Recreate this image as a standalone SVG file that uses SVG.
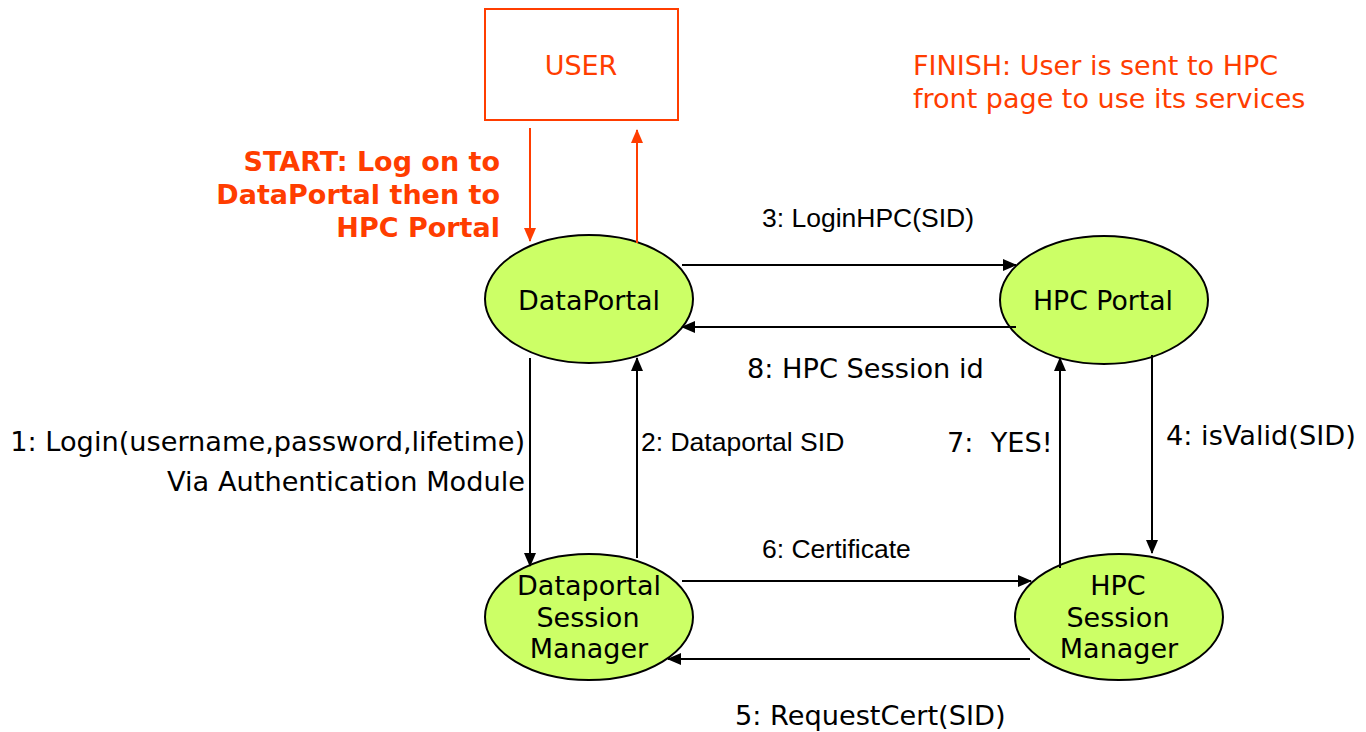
<svg xmlns="http://www.w3.org/2000/svg" width="1366" height="732" viewBox="0 0 1366 732">
<defs>
<marker id="ab" markerWidth="14" markerHeight="12" refX="13" refY="6" orient="auto" markerUnits="userSpaceOnUse"><path d="M0,0 L14,6 L0,12 Z" fill="#000"/></marker>
<marker id="ao" markerWidth="14" markerHeight="12" refX="13" refY="6" orient="auto" markerUnits="userSpaceOnUse"><path d="M0,0 L14,6 L0,12 Z" fill="#FF3D00"/></marker>
</defs>
<style>
.node{fill:#CCFF66;stroke:#000;stroke-width:2}
.nt{font-family:"DejaVu Sans",Verdana,sans-serif;font-size:27px;fill:#000;text-anchor:middle}
.lv{font-family:"DejaVu Sans",Verdana,sans-serif;font-size:27.2px;fill:#000}
.la{font-family:"Liberation Sans",Arial,sans-serif;font-size:26.5px;fill:#000}
.c{stroke:#000;stroke-width:2;fill:none;marker-end:url(#ab)}
.co{stroke:#FF3D00;stroke-width:2;fill:none;marker-end:url(#ao)}
.or{font-family:"DejaVu Sans",Verdana,sans-serif;font-size:27px;fill:#FF3D00}
</style>
<rect width="1366" height="732" fill="#fff"/>
<g id="user">
<rect x="485" y="9" width="193" height="111" fill="#fff" stroke="#FF3D00" stroke-width="2"/>
<text class="or" x="581" y="75" text-anchor="middle">USER</text>
</g>
<g id="start-note">
<text class="or" font-weight="bold" text-anchor="end" x="500" y="171">START: Log on to</text>
<text class="or" font-weight="bold" text-anchor="end" x="500" y="204" font-size="26.3">DataPortal then to</text>
<text class="or" font-weight="bold" text-anchor="end" x="500" y="237">HPC Portal</text>
</g>
<g id="finish-note">
<text class="or" x="913" y="75" font-size="28">FINISH: User is sent to HPC</text>
<text class="or" x="913" y="108" font-size="28">front page to use its services</text>
</g>
<g id="dataportal">
<ellipse class="node" cx="589" cy="299" rx="104" ry="64"/>
<text class="nt" x="589" y="310">DataPortal</text>
</g>
<g id="hpcportal">
<ellipse class="node" cx="1104" cy="300" rx="104" ry="64"/>
<text class="nt" x="1103" y="310" textLength="140" lengthAdjust="spacingAndGlyphs">HPC Portal</text>
</g>
<g id="dpsm">
<ellipse class="node" cx="589" cy="617" rx="104" ry="63"/>
<text class="nt" x="589" y="595">Dataportal</text>
<text class="nt" x="588" y="627">Session</text>
<text class="nt" x="589" y="658">Manager</text>
</g>
<g id="hpcsm">
<ellipse class="node" cx="1119" cy="617" rx="104" ry="63"/>
<text class="nt" x="1118" y="595">HPC</text>
<text class="nt" x="1118" y="627">Session</text>
<text class="nt" x="1119" y="658">Manager</text>
</g>
<g id="connectors">
<line class="co" x1="530" y1="128" x2="530" y2="241"/>
<line class="co" x1="637" y1="243" x2="637" y2="130"/>
<line class="c" x1="682" y1="265" x2="1016" y2="265"/>
<line class="c" x1="1016" y1="327" x2="682" y2="327"/>
<line class="c" x1="530" y1="358" x2="530" y2="566"/>
<line class="c" x1="637" y1="558" x2="637" y2="358"/>
<line class="c" x1="1060" y1="568" x2="1060" y2="358"/>
<line class="c" x1="1152" y1="355" x2="1152" y2="553"/>
<line class="c" x1="682" y1="581" x2="1031" y2="581"/>
<line class="c" x1="1030" y1="659" x2="668" y2="659"/>
</g>
<g id="labels">
<text class="la" x="868" y="227" text-anchor="middle">3: LoginHPC(SID)</text>
<text class="lv" x="747" y="378">8: HPC Session id</text>
<text class="lv" x="525" y="451" text-anchor="end">1: Login(username,password,lifetime)</text>
<text class="lv" x="525" y="491" text-anchor="end">Via Authentication Module</text>
<text class="la" x="641" y="451">2: Dataportal SID</text>
<text class="lv" x="947" y="452" xml:space="preserve">7:  YES!</text>
<text class="lv" x="1166" y="445">4: isValid(SID)</text>
<text class="la" x="762" y="558">6: Certificate</text>
<text class="lv" x="735" y="725">5: RequestCert(SID)</text>
</g>
</svg>
